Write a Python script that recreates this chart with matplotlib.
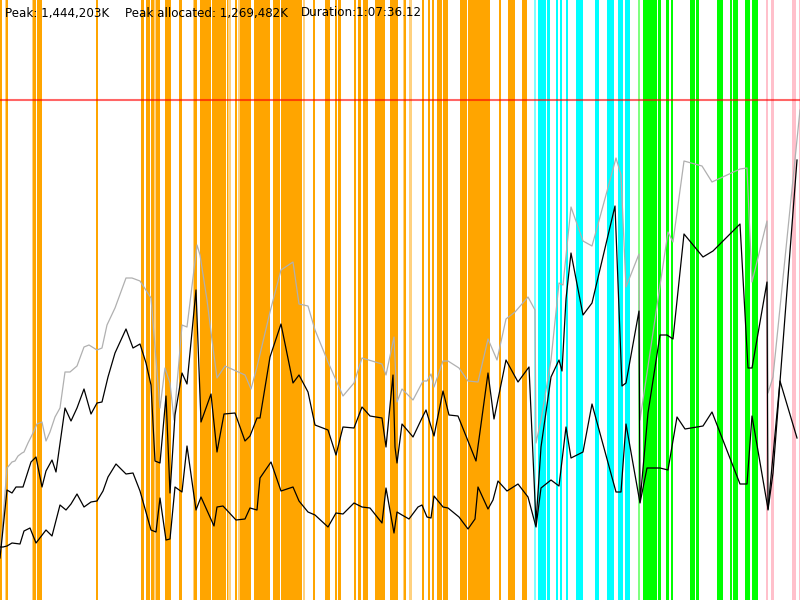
import matplotlib
matplotlib.use('Agg')
import matplotlib.pyplot as plt

# 時間軸 (サンプル位置) と各系列の値 (上端からの位置, px 相当)
grey_x = [0, 7, 12, 15, 18, 22, 24, 28, 33, 37, 42, 46, 50, 55, 60, 65, 70, 77, 84, 89, 97, 102, 107, 115, 126, 132, 140,
          151, 160, 165, 170, 174, 182, 187, 197, 200, 207, 212, 217, 225, 245, 251, 257, 270, 281, 293, 299, 308, 315,
          328, 343, 354, 362, 382, 386, 394, 397, 402, 413, 423, 427, 431, 434, 443, 448, 459, 468, 478, 488, 497, 506,
          515, 528, 535, 536, 541, 551, 559, 563, 571, 583, 592, 600, 616, 621, 626, 639, 640, 668, 673, 684, 702, 712,
          740, 747, 752, 767, 768, 773, 800]
grey_y = [556, 468, 462, 461, 456, 453, 452, 443, 433, 424, 422, 441, 432, 417, 408, 372, 372, 366, 347, 345, 350, 348, 325,
          308, 278, 278, 281, 298, 408, 368, 383, 420, 325, 327, 245, 255, 300, 340, 378, 366, 375, 389, 367, 312, 270,
          262, 304, 306, 330, 362, 396, 383, 358, 364, 375, 337, 402, 389, 400, 381, 381, 374, 387, 361, 361, 368, 381,
          382, 339, 360, 319, 312, 297, 310, 443, 420, 360, 283, 285, 207, 241, 246, 217, 158, 175, 287, 254, 420, 232,
          242, 161, 166, 182, 169, 168, 282, 221, 393, 377, 110]

mid_x = [0, 7, 12, 16, 23, 31, 36, 42, 46, 52, 56, 65, 71, 77, 84, 91, 97, 102, 108, 115, 126, 133, 140, 146, 151, 155,
         160, 166, 170, 175, 182, 187, 196, 201, 211, 217, 224, 235, 245, 250, 257, 260, 270, 281, 293, 299, 308, 315,
         328, 336, 343, 354, 362, 370, 382, 386, 393, 395, 397, 402, 408, 413, 422, 426, 434, 443, 449, 458, 476, 488,
         494, 506, 518, 529, 536, 541, 551, 559, 562, 566, 571, 583, 592, 615, 622, 626, 639, 640, 648, 660, 667, 673,
         684, 703, 713, 740, 748, 752, 767, 768, 773, 797]
mid_y = [558, 490, 493, 487, 487, 462, 457, 487, 471, 460, 472, 408, 421, 408, 389, 414, 403, 402, 377, 353, 329, 348, 344,
         363, 385, 461, 463, 396, 493, 415, 373, 384, 290, 422, 394, 452, 414, 413, 441, 436, 418, 418, 357, 324, 383,
         375, 392, 425, 430, 455, 427, 428, 407, 416, 418, 447, 375, 447, 463, 424, 431, 437, 418, 410, 436, 391, 415,
         416, 461, 373, 419, 360, 382, 367, 523, 447, 377, 360, 371, 299, 253, 315, 303, 206, 386, 383, 311, 502, 413,
         335, 335, 339, 234, 257, 251, 224, 368, 368, 282, 510, 473, 160]

low_x = [0, 3, 7, 12, 20, 24, 30, 36, 46, 52, 60, 66, 71, 77, 84, 91, 97, 103, 108, 116, 126, 133, 140, 151, 156, 160, 166,
         170, 175, 182, 187, 196, 201, 214, 217, 223, 236, 245, 250, 257, 260, 271, 281, 293, 299, 308, 315, 328, 336,
         343, 354, 362, 370, 382, 386, 394, 397, 402, 409, 418, 422, 427, 431, 434, 443, 448, 459, 468, 475, 478, 488,
         493, 498, 507, 518, 528, 536, 541, 551, 559, 566, 571, 583, 592, 616, 621, 626, 640, 647, 660, 668, 677, 685,
         703, 712, 740, 747, 752, 768, 780, 797]
low_y = [547, 547, 546, 543, 544, 531, 528, 543, 530, 536, 505, 510, 504, 494, 507, 502, 501, 491, 477, 464, 474, 473, 491,
         530, 532, 498, 540, 539, 487, 492, 446, 510, 497, 526, 507, 506, 520, 519, 508, 510, 478, 462, 491, 487, 501,
         512, 515, 527, 513, 514, 503, 507, 508, 523, 488, 533, 512, 515, 519, 507, 505, 517, 518, 496, 507, 508, 517,
         529, 519, 487, 509, 500, 481, 491, 484, 497, 527, 488, 480, 486, 427, 458, 452, 404, 492, 492, 424, 503, 468,
         468, 470, 417, 429, 426, 412, 484, 484, 416, 509, 381, 438]

# イベント区間 (開始, 終了)
orange_spans = [(0, 2), (6, 7.3), (33.3, 35.3), (37, 42), (96, 98), (140.7, 144), (145.7, 149.3), (150.7, 153.3),
                (156, 159.3), (165, 170.7), (179, 182), (194, 197), (200, 211), (212, 223.5), (224.3, 226),
                (226.7, 228), (235, 236.7), (240, 250.7), (254, 258.3), (259, 270), (273.3, 280), (280.7, 289.3),
                (290, 293.3), (294, 301.7), (312.7, 314.7), (325, 329.3), (335, 336.7), (337.7, 340.7), (354, 356),
                (357.7, 360.7), (362.7, 367.7), (375, 378.3), (379.3, 381.7), (382.3, 385), (390, 397.3),
                (404.3, 406), (421.7, 423.3), (427.7, 430), (431.7, 433.3), (436.7, 439.3), (440, 442),
                (442.7, 447.7), (460, 466.7), (468, 476.7), (477.3, 483.3), (484, 489.3), (499, 501),
                (508.3, 511.3), (512, 515), (522, 526.7)]
orange_light = [(5, 6), (31.7, 33.3), (154, 155.7), (193.3, 194), (228.3, 230.5), (237.7, 239.3), (302.7, 305),
                (402.7, 404), (409, 411.7)]
cyan_spans = [(538, 546), (546.7, 550), (555.7, 557.3), (560, 562), (565.7, 567.7), (576, 582.3), (595, 599),
              (606.7, 613.3), (618.3, 622.7), (625, 629.3)]
cyan_light = [(534, 536)]
lime_spans = [(642.7, 648.3), (649, 653.3), (654.3, 656.7), (658.3, 660.7), (665.7, 668.3), (670.7, 672.7),
              (690, 695), (696, 698.7), (716.7, 722.7), (730, 732), (733, 737.3), (745, 749.3), (751.7, 757.3)]
lime_light = [(637.7, 640)]
pink_spans = [(766, 767.3), (770.7, 773.3), (791.7, 796), (799, 800)]

limit_y = 100

peak = 'Peak: 1,444,203K'
peak_alloc = 'Peak allocated: 1,269,482K'
duration = 'Duration:1:07:36.12'

fig = plt.figure(figsize=(8.0, 6.0), dpi=100)
ax = fig.add_axes([0, 0, 1, 1])

pad = 0.2
for spans, color, alpha in [(orange_spans, '#ffa500', 1.0), (orange_light, '#ffa500', 0.5),
                            (cyan_spans, '#00ffff', 1.0), (cyan_light, '#00ffff', 0.5),
                            (lime_spans, '#00ff00', 1.0), (lime_light, '#00ff00', 0.5),
                            (pink_spans, '#ffc0cb', 1.0)]:
    for x0, x1 in spans:
        ax.axvspan(x0 - pad, x1 + pad, color=color, alpha=alpha, lw=0)

ax.axhline(limit_y, color='red', alpha=0.6, lw=1.5)

ax.plot(grey_x, grey_y, color='#b0b0b0', lw=0.9)
ax.plot(mid_x, mid_y, color='black', lw=0.9)
ax.plot(low_x, low_y, color='black', lw=0.9)

ax.set_xlim(0, 800)
ax.set_ylim(600, 0)
ax.axis('off')

fig.text(5 / 800, 1 - 13 / 600, peak, fontsize=8.6, va='center', ha='left')
fig.text(125 / 800, 1 - 13 / 600, peak_alloc, fontsize=8.6, va='center', ha='left')
fig.text(301 / 800, 1 - 13 / 600, duration, fontsize=8.6, va='center', ha='left')

fig.savefig('out.png', dpi=100)
